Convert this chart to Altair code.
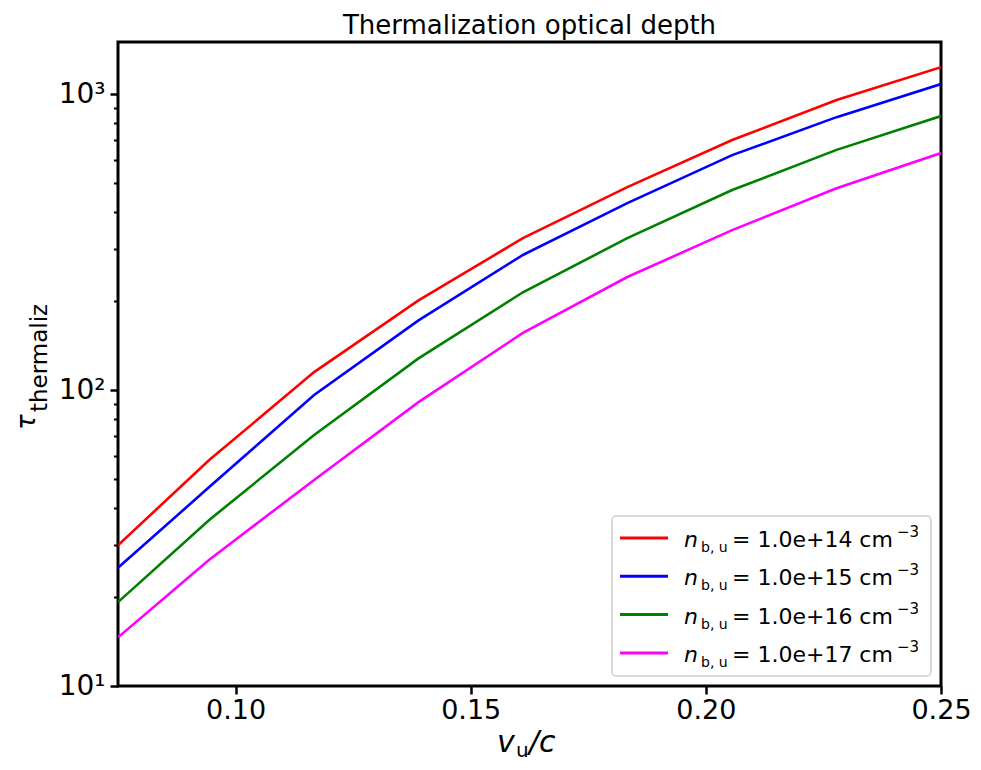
import altair as alt
import pandas as pd

# ---- data ----
v_over_c = [0.075, 0.0944, 0.1167, 0.1389, 0.1611, 0.1833, 0.2056, 0.2278, 0.25]
tau_1e14 = [29.9, 58.0, 115, 201, 326, 485, 700, 955, 1233]
tau_1e15 = [25.1, 47.0, 96.2, 172, 286, 428, 622, 836, 1081]
tau_1e16 = [19.2, 36.4, 70.5, 128, 214, 326, 474, 648, 843]
tau_1e17 = [14.6, 26.7, 49.7, 91, 156, 241, 347, 481, 632]
series_names = ["1.0e+14", "1.0e+15", "1.0e+16", "1.0e+17"]
series_colors = ["#ff0000", "#0000ff", "#008000", "#ff00ff"]
x_ticks = [0.10, 0.15, 0.20, 0.25]
y_major = [10, 100, 1000]
y_minor = [20, 30, 40, 50, 60, 70, 80, 90, 200, 300, 400, 500, 600, 700, 800, 900]

all_series = [tau_1e14, tau_1e15, tau_1e16, tau_1e17]
rows = []
for name, vals in zip(series_names, all_series):
    for x, y in zip(v_over_c, vals):
        rows.append({"v": x, "tau": y, "series": name})
df = pd.DataFrame(rows)

W, H = 823, 644
FONT = "DejaVu Sans"
xscale = alt.Scale(domain=[0.075, 0.25], nice=False, zero=False)
yscale = alt.Scale(type="log", domain=[10, 1500], nice=False)
cscale = alt.Scale(domain=series_names, range=series_colors)

lines = alt.Chart(df).mark_line(strokeWidth=2.6, clip=True).encode(
    x=alt.X("v:Q", scale=xscale,
            axis=alt.Axis(values=x_ticks, format=".2f", title=None, grid=False,
                          domain=False, tickColor="black", tickWidth=2.5, tickSize=8,
                          labelFont=FONT, labelFontSize=27, labelColor="black",
                          labelPadding=3, labelFlush=False)),
    y=alt.Y("tau:Q", scale=yscale,
            axis=alt.Axis(values=y_major, title=None, grid=False, domain=False,
                          orient="left", tickColor="black", tickWidth=2.5, tickSize=8,
                          labelFont=FONT, labelFontSize=28, labelColor="black",
                          labelPadding=5,
                          labelExpr="datum.value == 1000 ? '10³' : datum.value == 100 ? '10²' : '10¹'")),
    color=alt.Color("series:N", scale=cscale, legend=None),
    detail="series:N",
)

minor = alt.Chart(df).mark_point(opacity=0).encode(
    x=alt.X("v:Q", scale=xscale, axis=None),
    y=alt.Y("tau:Q", scale=yscale,
            axis=alt.Axis(values=y_minor, labels=False, title=None, grid=False,
                          domain=False, orient="left", tickColor="black",
                          tickWidth=2, tickSize=4.5)),
)


def txt(s, x, y, size, style="normal", angle=0, align="left", baseline="alphabetic"):
    kw = dict(fontSize=size, font=FONT, fontStyle=style, align=align,
              baseline=baseline, color="black")
    if angle:
        kw["angle"] = angle
    return alt.Chart(pd.DataFrame({"t": [s]})).mark_text(**kw).encode(
        text="t:N", x=alt.value(x), y=alt.value(y))


layers = [lines, minor]

# legend box
layers.append(
    alt.Chart(pd.DataFrame({"a": [0]})).mark_rect(
        fill="white", fillOpacity=0.85, stroke="#cccccc", strokeWidth=1.5, cornerRadius=4
    ).encode(x=alt.value(494), x2=alt.value(813), y=alt.value(474), y2=alt.value(634))
)
for i, (name, col) in enumerate(zip(series_names, series_colors)):
    yl = 496 + 38.3 * i
    yb = yl + 9
    layers.append(
        alt.Chart(pd.DataFrame({"a": [0]})).mark_rule(strokeWidth=3, color=col).encode(
            x=alt.value(502), x2=alt.value(550), y=alt.value(yl))
    )
    layers.append(txt("n", 566, yb, 22, style="italic"))
    layers.append(txt("b, u", 583, yb + 5, 14))
    layers.append(txt("= " + name + " cm", 614, yb, 22))
    layers.append(txt("−3", 779, yb - 10, 15))

# x axis title  v_u / c
layers.append(txt("v", 379, 710, 30, style="italic"))
layers.append(txt("u", 398, 715, 20))
layers.append(txt("/c", 411, 710, 30, style="italic"))

# y axis title  tau_thermaliz
layers.append(txt("τ", -83, 388, 26, style="italic", angle=270))
layers.append(txt("thermaliz", -71, 370, 23, angle=270))

chart = alt.layer(*layers).resolve_axis(y="independent", x="independent").properties(
    width=W, height=H,
    title=alt.TitleParams("Thermalization optical depth", font=FONT, fontSize=26,
                          fontWeight="normal", color="black", anchor="middle", offset=3),
    autosize=alt.AutoSizeParams(type="none"),
    padding={"left": 110, "top": 34, "right": 32, "bottom": 76},
).configure(background="white", view=alt.ViewConfig(stroke="black", strokeWidth=3))

chart.save("out.html", embed_options={"renderer": "svg", "actions": False})
